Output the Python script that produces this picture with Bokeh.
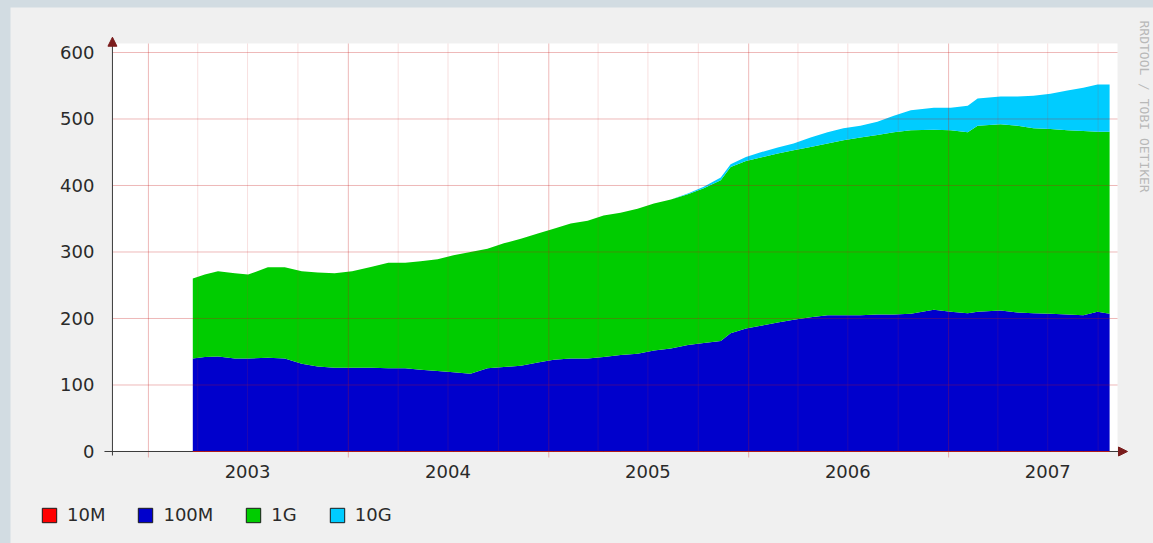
import math
import pandas as pd
from bokeh.plotting import figure
from bokeh.models import (ColumnDataSource, FixedTicker, DatetimeTickFormatter, Legend, LegendItem,
                          Arrow, NormalHead, Label, Range1d, BoxAnnotation, GlobalInlineStyleSheet)
from bokeh.core.properties import value
from bokeh.embed import file_html
from bokeh.resources import INLINE

# ---------------- data ----------------
dates = ["2003-03-23", "2003-04-14", "2003-05-08", "2003-06-08", "2003-07-02", "2003-08-07",
         "2003-09-07", "2003-10-08", "2003-11-06", "2003-12-07", "2004-01-08", "2004-02-13",
         "2004-03-14", "2004-04-14", "2004-05-12", "2004-06-12", "2004-07-11", "2004-08-11",
         "2004-09-11", "2004-10-11", "2004-11-11", "2004-12-12", "2005-01-10", "2005-02-10",
         "2005-03-13", "2005-04-11", "2005-05-12", "2005-06-12", "2005-07-12", "2005-08-12",
         "2005-09-12", "2005-10-11", "2005-11-11", "2005-11-29", "2005-12-27", "2006-01-23",
         "2006-02-23", "2006-03-24", "2006-04-24", "2006-05-25", "2006-06-23", "2006-07-24",
         "2006-08-24", "2006-09-23", "2006-10-24", "2006-12-05", "2007-01-05", "2007-02-05",
         "2007-02-23", "2007-04-06", "2007-05-07", "2007-06-05", "2007-07-06", "2007-08-06",
         "2007-09-04", "2007-09-30", "2007-10-22"]
m10 = [0] * 57
m100 = [140, 142, 143, 140, 140, 141, 140, 132, 128, 126, 126, 126,
        125, 125, 123, 121, 119, 117, 125, 127, 129, 134, 138, 140,
        140, 142, 145, 147, 152, 155, 160, 163, 166, 178, 185, 189,
        194, 198, 202, 205, 205, 205, 206, 206, 207, 213, 210, 208,
        210, 212, 209, 208, 207, 206, 205, 210, 207]
g1 = [120, 124, 128, 128, 126, 136, 137, 139, 141, 142, 145, 152,
      159, 159, 163, 168, 176, 183, 180, 186, 191, 194, 197, 203,
      207, 213, 214, 218, 221, 224, 227, 233, 242, 250, 252, 253,
      254, 255, 256, 258, 263, 267, 270, 274, 276, 271, 273, 272,
      280, 280, 281, 278, 278, 277, 277, 271, 274]
g10 = [0, 0, 0, 0, 0, 0, 0, 0, 0, 0, 0, 0,
       0, 0, 0, 0, 0, 0, 0, 0, 0, 0, 0, 0,
       0, 0, 0, 0, 0, 0, 1, 2, 4, 4, 6, 8,
       9, 10, 14, 17, 18, 18, 20, 25, 30, 33, 34, 40,
       41, 42, 44, 49, 53, 60, 65, 71, 71]
series_names = ["10M", "100M", "1G", "10G"]
series_colors = ["#ff0000", "#0000cc", "#00cc00", "#00ccff"]
year_labels = ["2003", "2004", "2005", "2006", "2007"]
y_ticks = [0, 100, 200, 300, 400, 500, 600]
watermark = "RRDTOOL / TOBI OETIKER"

FONT = "DejaVu Sans"
TEXT = "#2a2a2a"
AXIS = "#3a3a3a"
NAN = float("nan")


def fy(f):
    """fractional year -> epoch milliseconds"""
    y = int(math.floor(f))
    a = pd.Timestamp(year=y, month=1, day=1)
    b = pd.Timestamp(year=y + 1, month=1, day=1)
    return (a + (b - a) * (f - y)).value / 1e6


def ms(ts):
    return pd.Timestamp(ts).value / 1e6


# canvas (graph area) bounds and whole-figure ranges
X0, X1, YTOP = fy(2002.82), fy(2007.845), 613.5

source = ColumnDataSource(dict(date=pd.to_datetime(dates), m10=m10, m100=m100, g1=g1, g10=g10))

p = figure(width=1143, height=536, x_axis_type="datetime", output_backend="svg",
           toolbar_location=None, min_border_left=0, min_border_right=0,
           min_border_top=0, min_border_bottom=0,
           x_range=Range1d(fy(2002.31), fy(2008.025)),
           y_range=Range1d(-138.35, 667.67))
p.background_fill_color = "#f0f0f0"
p.border_fill_color = "#f0f0f0"
p.outline_line_color = None
p.xgrid.visible = False
p.ygrid.visible = False

# white graph canvas
p.add_layout(BoxAnnotation(left=X0, right=X1, bottom=0, top=YTOP, fill_color="#ffffff",
                           fill_alpha=1, line_color=None, level="underlay"))

# stacked areas
p.varea_stack(stackers=["m10", "m100", "g1", "g10"], x="date", color=series_colors, source=source)

# grid over the data (rrdtool style)
years = [int(y) for y in year_labels]
jan1 = [ms(f"{y}-01-01") for y in range(2003, 2008)]
quarters = [ms(f"{y}-{m:02d}-01") for y in range(2002, 2008) for m in (4, 7, 10)]
quarters = [q for q in quarters if X0 < q < X1]
p.segment(x0=quarters, y0=[0] * len(quarters), x1=quarters, y1=[YTOP] * len(quarters),
          line_color="#d03030", line_alpha=0.15, line_width=1)
p.segment(x0=jan1, y0=[-9] * len(jan1), x1=jan1, y1=[YTOP] * len(jan1),
          line_color="#c81818", line_alpha=0.3, line_width=1)
hy = y_ticks[1:]
p.segment(x0=[X0] * len(hy), y0=hy, x1=[X1] * len(hy), y1=hy,
          line_color="#c81818", line_alpha=0.3, line_width=1)

# axis lines (extended like rrdtool) and the 10M line on top
p.segment(x0=[fy(2002.78)], y0=[0], x1=[fy(2007.87)], y1=[0], line_color=AXIS, line_width=1)
p.segment(x0=[X0], y0=[-6], x1=[X0], y1=[618], line_color=AXIS, line_width=1)
p.line(x="date", y="m10", color="#e01010", line_alpha=0.7, line_width=1, source=source)

head_col = "#7a1c1c"
p.add_layout(Arrow(end=NormalHead(size=9, fill_color=head_col, line_color=head_col),
                   x_start=fy(2007.86), y_start=0, x_end=fy(2007.895), y_end=0,
                   line_color=AXIS, line_width=1))
p.add_layout(Arrow(end=NormalHead(size=9, fill_color=head_col, line_color=head_col),
                   x_start=X0, y_start=612, x_end=X0, y_end=623,
                   line_color=AXIS, line_width=1))

# axes (labels only) fixed to the graph origin
p.xaxis.fixed_location = 0
p.yaxis.fixed_location = X0
p.xaxis.ticker = FixedTicker(ticks=[ms(f"{y}-07-01") for y in years])
fmt = "%Y"
p.xaxis.formatter = DatetimeTickFormatter(years=fmt, months=fmt, days=fmt, hours=fmt,
                                          minutes=fmt, seconds=fmt, milliseconds=fmt,
                                          minsec=fmt, hourmin=fmt)
p.yaxis.ticker = FixedTicker(ticks=y_ticks)
for ax in (p.xaxis, p.yaxis):
    ax.axis_line_color = None
    ax.major_tick_line_color = None
    ax.minor_tick_line_color = None
    ax.major_tick_out = 0
    ax.major_tick_in = 0
    ax.major_label_text_font = FONT
    ax.major_label_text_font_size = "18px"
    ax.major_label_text_color = TEXT
p.xaxis.major_label_standoff = 14
p.yaxis.major_label_standoff = 18

# legend with outlined square swatches (swatch renderers hold no visible data)
items = []
for name, col in zip(series_names, series_colors):
    r = p.quad(left=[NAN], right=[NAN], top=[NAN], bottom=[NAN], fill_color=col,
               line_color="#1a1a1a", line_width=1)
    items.append(LegendItem(label=value(name), renderers=[r]))
legend = Legend(items=items, orientation="horizontal", location=(30, 18),
                padding=0, margin=0, spacing=31, glyph_width=18, glyph_height=18,
                label_height=18, label_standoff=9, border_line_color=None,
                background_fill_alpha=0, label_text_font=FONT, label_text_font_size="18px",
                label_text_color=TEXT, label_text_baseline="middle")
p.add_layout(legend, "center")

# rrdtool watermark
p.add_layout(Label(x=1134, y=523, x_units="screen", y_units="screen", text=watermark,
                   angle=-math.pi / 2, text_font="DejaVu Sans Mono", text_font_size="13px",
                   text_color="#b8b8b8", text_align="left", text_baseline="middle"))

p.stylesheets.append(GlobalInlineStyleSheet(
    css="html, body { margin: 0; padding: 0; background: #d2dce2; overflow: hidden; } "
        "body { padding: 7px 0 0 10px; }"))

open("out.html", "w").write(file_html(p, INLINE))
